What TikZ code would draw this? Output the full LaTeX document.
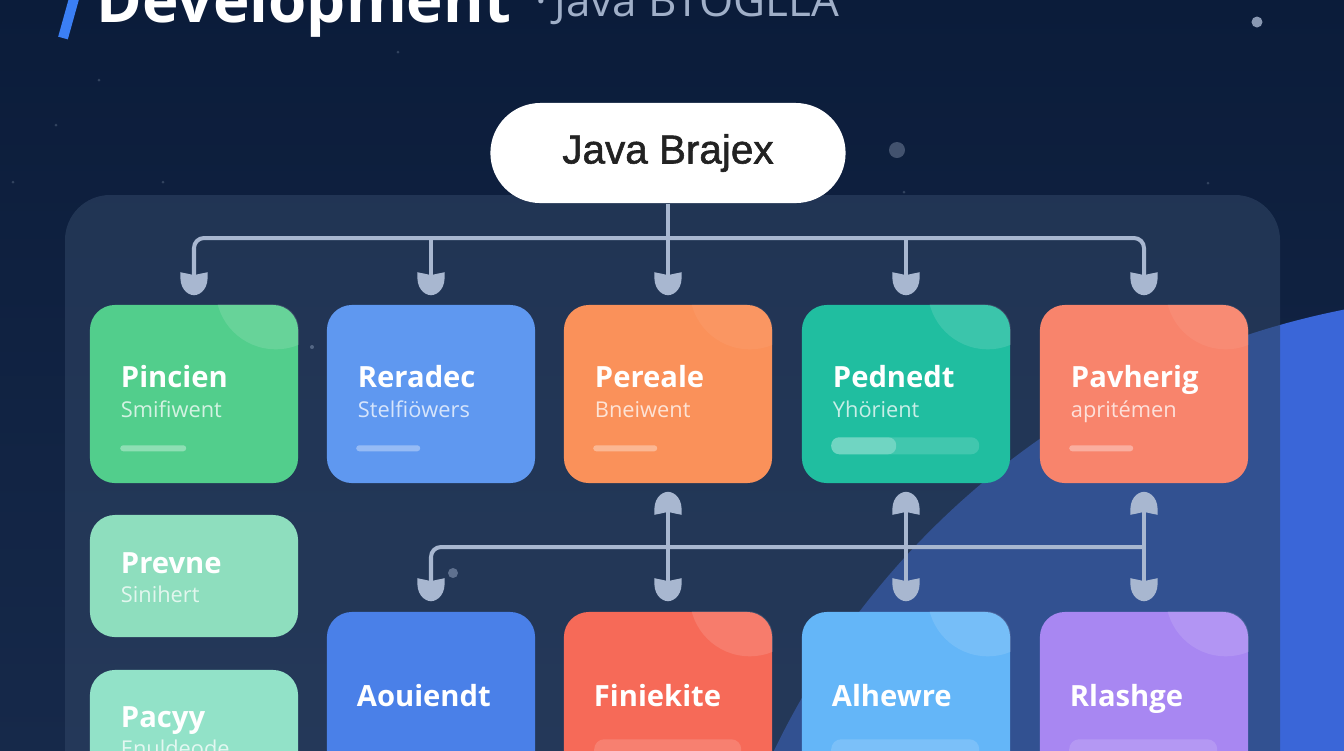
\documentclass[tikz,border=0pt]{standalone}
\usepackage{fontspec}
\setmainfont{Open Sans}
\newfontfamily\pillfont[FakeBold=1.4]{Liberation Sans}
\usetikzlibrary{arrows.meta,calc}
\definecolor{bgtop}{HTML}{0B1C3A}
\definecolor{bgbot}{HTML}{16294A}
\definecolor{planet}{HTML}{3A66D8}
\definecolor{panelc}{HTML}{2E4363}
\definecolor{conncol}{HTML}{A8B7D0}
\definecolor{slashc}{HTML}{3B7FF5}
\definecolor{subtc}{HTML}{A0AFC8}
\definecolor{cgreen}{HTML}{52CE8C}
\definecolor{cblue}{HTML}{5F98F0}
\definecolor{corange}{HTML}{FA915A}
\definecolor{cteal}{HTML}{20BEA0}
\definecolor{csalmon}{HTML}{F8846C}
\definecolor{cmintA}{HTML}{8EDEBE}
\definecolor{cmintB}{HTML}{92E2C8}
\definecolor{cblueB}{HTML}{4A80E8}
\definecolor{ccoral}{HTML}{F66A58}
\definecolor{clblue}{HTML}{64B6F8}
\definecolor{cpurple}{HTML}{A887F2}
\definecolor{pilltext}{HTML}{222222}

\pgfdeclarearrow{
  name = Shield,
  parameters = {\the\pgfarrowlength,\the\pgfarrowwidth},
  setup code = {
    \pgfarrowssettipend{0pt}
    \pgfarrowssetlineend{-.5\pgfarrowlength}
    \pgfarrowssetbackend{-\pgfarrowlength}
    \pgfarrowssetvisualbackend{-.85\pgfarrowlength}
    \pgfarrowshullpoint{0pt}{0pt}
    \pgfarrowsupperhullpoint{-\pgfarrowlength}{.5\pgfarrowwidth}
    \pgfarrowssavethe\pgfarrowlength
    \pgfarrowssavethe\pgfarrowwidth
  },
  drawing code = {
    \pgfsetfillcolor{conncol}
    \pgfpathmoveto{\pgfqpoint{-\pgfarrowlength}{.5\pgfarrowwidth}}
    \pgfpathcurveto{\pgfqpoint{-.3\pgfarrowlength}{.56\pgfarrowwidth}}{\pgfqpoint{-.02\pgfarrowlength}{.26\pgfarrowwidth}}{\pgfqpoint{0pt}{0pt}}
    \pgfpathcurveto{\pgfqpoint{-.02\pgfarrowlength}{-.26\pgfarrowwidth}}{\pgfqpoint{-.3\pgfarrowlength}{-.56\pgfarrowwidth}}{\pgfqpoint{-\pgfarrowlength}{-.5\pgfarrowwidth}}
    \pgfpathcurveto{\pgfqpoint{-.94\pgfarrowlength}{-.25\pgfarrowwidth}}{\pgfqpoint{-.9\pgfarrowlength}{-.08\pgfarrowwidth}}{\pgfqpoint{-.87\pgfarrowlength}{0pt}}
    \pgfpathcurveto{\pgfqpoint{-.9\pgfarrowlength}{.08\pgfarrowwidth}}{\pgfqpoint{-.94\pgfarrowlength}{.25\pgfarrowwidth}}{\pgfqpoint{-\pgfarrowlength}{.5\pgfarrowwidth}}
    \pgfpathclose
    \pgfusepathqfill
  },
  defaults = {length = 7pt, width = 7.5pt}
}

\tikzset{
  conn/.style={draw=conncol, line width=0.04cm},
  card/.style={rounded corners=0.25cm, minimum width=2.08cm, inner sep=0pt, draw=none},
  ttl/.style={anchor=base west, text=white, inner sep=0pt, font=\fontsize{8.3}{10}\selectfont\bfseries},
  sub/.style={anchor=base west, text=white, text opacity=0.75, inner sep=0pt, font=\fontsize{6.2}{8}\selectfont},
  bar/.style={fill=white, fill opacity=0.35, rounded corners=0.03cm},
  wide bar/.style={fill=white, fill opacity=0.15, rounded corners=0.1cm},
  star/.style={fill=#1},
}

\begin{document}
\begin{tikzpicture}[x=0.01cm, y=-0.01cm, >={Shield[length=0.23cm,width=0.27cm]}]
\useasboundingbox (0,0) rectangle (1344,750);
\clip (0,0) rectangle (1344,750);
% background
\fill[top color=bgtop, bottom color=bgbot] (0,0) rectangle (1344,750);
\fill[planet] (1500,1100) circle (8.05cm);
% stars
\fill[star=conncol!80!bgtop] (1257,22) circle (0.055cm);
\fill[star=conncol!35!bgtop] (897,150) circle (0.08cm);
\fill[star=conncol!25!bgtop] (99,80) circle (0.015cm);
\fill[star=conncol!25!bgtop] (56,125) circle (0.015cm);
\fill[star=conncol!25!bgtop] (13,182) circle (0.015cm);
\fill[star=conncol!25!bgtop] (163,182) circle (0.015cm);
\fill[star=conncol!25!bgtop] (398,52) circle (0.015cm);
\fill[star=conncol!25!bgtop] (1208,183) circle (0.015cm);
\fill[star=conncol!25!bgtop] (904,192) circle (0.015cm);
% panel
\fill[panelc, fill opacity=0.6, rounded corners=0.45cm] (65,195) rectangle (1280,950);
\fill[star=conncol!40!panelc] (453,573) circle (0.05cm);
\fill[star=conncol!30!panelc] (312,347) circle (0.02cm);
% header
\draw[slashc, line width=0.1cm] (75,-5) -- (63,38);
\node[anchor=base west, inner sep=0pt, text=white, font=\fontsize{17.6}{20}\selectfont\bfseries] (title) at (96,22) {Development};
\node[anchor=base west, inner sep=0pt, text=subtc, font=\fontsize{12.5}{14}\selectfont] (subtitle) at (535,16) {·\,Java BTOGLLA};
% root pill
\node[fill=white, rounded corners=0.5cm, minimum width=3.55cm, minimum height=1cm, inner sep=0pt, text=pilltext, font=\pillfont\fontsize{11.5}{13}\selectfont] (pill) at (668,153) {Java Brajex};
% top row cards
\node[card, fill=cgreen, minimum height=1.78cm] (c1) at (194,394) {};
\node[card, fill=cblue, minimum height=1.78cm] (c2) at (431,394) {};
\node[card, fill=corange, minimum height=1.78cm] (c3) at (668,394) {};
\node[card, fill=cteal, minimum height=1.78cm] (c4) at (906,394) {};
\node[card, fill=csalmon, minimum height=1.78cm] (c5) at (1144,394) {};
% left column cards
\node[card, fill=cmintA, minimum height=1.22cm] (c6) at (194,576) {};
\node[card, fill=cmintB, minimum height=2cm] (c7) at (194,770) {};
% bottom row cards
\node[card, fill=cblueB, minimum height=2cm] (b1) at (431,712) {};
\node[card, fill=ccoral, minimum height=2cm] (b2) at (668,712) {};
\node[card, fill=clblue, minimum height=2cm] (b3) at (906,712) {};
\node[card, fill=cpurple, minimum height=2cm] (b4) at (1144,712) {};
% bubbles
\foreach \c/\o in {c1/0.12, c3/0.05, c4/0.12, c5/0.06, b2/0.12, b3/0.12, b4/0.12}{
  \begin{scope}
    \clip[rounded corners=0.25cm] (\c.south west) rectangle (\c.north east);
    \fill[white, fill opacity=\o] ($(\c.north east)+(-23,-15)$) circle (0.6cm);
  \end{scope}
}
% card texts
\node[ttl] (t1) at ($(c1.north west)+(31,83)$) {Pincien};
\node[sub] (s1) at ($(c1.north west)+(31,113)$) {Smifiwent};
\node[ttl] (t2) at ($(c2.north west)+(31,83)$) {Reradec};
\node[sub] (s2) at ($(c2.north west)+(31,113)$) {Stelfiöwers};
\node[ttl] (t3) at ($(c3.north west)+(31,83)$) {Pereale};
\node[sub] (s3) at ($(c3.north west)+(31,113)$) {Bneiwent};
\node[ttl] (t4) at ($(c4.north west)+(31,83)$) {Pednedt};
\node[sub] (s4) at ($(c4.north west)+(31,113)$) {Yhörient};
\node[ttl] (t5) at ($(c5.north west)+(31,83)$) {Pavherig};
\node[sub] (s5) at ($(c5.north west)+(31,113)$) {apritémen};
\node[ttl] (t6) at ($(c6.north west)+(31,59)$) {Prevne};
\node[sub] (s6) at ($(c6.north west)+(31,88)$) {Sinihert};
\node[ttl] (t7) at ($(c7.north west)+(31,58)$) {Pacyy};
\node[sub] (s7) at ($(c7.north west)+(31,87)$) {Enuldeode};
\node[ttl] (u1) at ($(b1.north west)+(30,95)$) {Aouiendt};
\node[ttl] (u2) at ($(b2.north west)+(30,95)$) {Finiekite};
\node[ttl] (u3) at ($(b3.north west)+(30,95)$) {Alhewre};
\node[ttl] (u4) at ($(b4.north west)+(30,95)$) {Rlashge};
% bars
\fill[bar] ($(c1.north west)+(31,141)$) rectangle ($(c1.north west)+(97,147)$);
\fill[bar] ($(c2.north west)+(30,141)$) rectangle ($(c2.north west)+(94,147)$);
\fill[bar] ($(c3.north west)+(30,141)$) rectangle ($(c3.north west)+(94,147)$);
\fill[wide bar, fill opacity=0.15, rounded corners=0.08cm] ($(c4.north west)+(30,133)$) rectangle ($(c4.north west)+(178,150)$);
\fill[wide bar, fill opacity=0.25, rounded corners=0.08cm] ($(c4.north west)+(30,133)$) rectangle ($(c4.north west)+(95,150)$);
\fill[bar] ($(c5.north west)+(30,141)$) rectangle ($(c5.north west)+(94,147)$);
\fill[wide bar] ($(b2.north west)+(31,128)$) rectangle ($(b2.north west)+(178,160)$);
\fill[wide bar] ($(b3.north west)+(30,128)$) rectangle ($(b3.north west)+(178,160)$);
\fill[wide bar] ($(b4.north west)+(30,128)$) rectangle ($(b4.north west)+(178,160)$);
% connectors: top tree
\coordinate (busT) at (0,238);
\coordinate (busB) at (0,547);
\draw[conn, ->, shorten >=0.09cm] (pill.south) -- (c3.north);
\draw[conn, ->, shorten >=0.09cm, rounded corners=0.1cm] (pill.south |- busT) -| (c1.north);
\draw[conn, ->, shorten >=0.09cm, rounded corners=0.1cm] (pill.south |- busT) -| (c5.north);
\draw[conn, ->, shorten >=0.09cm] (c2.north |- busT) -- (c2.north);
\draw[conn, ->, shorten >=0.09cm] (c4.north |- busT) -- (c4.north);
% connectors: lower tree
\draw[conn, ->, shorten >=0.1cm, rounded corners=0.1cm] (c5.south |- busB) -| (b1.north);
\draw[conn, <->, shorten <=0.08cm, shorten >=0.1cm] (c3.south) -- (b2.north);
\draw[conn, <->, shorten <=0.08cm, shorten >=0.1cm] (c4.south) -- (b3.north);
\draw[conn, <->, shorten <=0.08cm, shorten >=0.1cm] (c5.south) -- (b4.north);
\end{tikzpicture}
\end{document}
